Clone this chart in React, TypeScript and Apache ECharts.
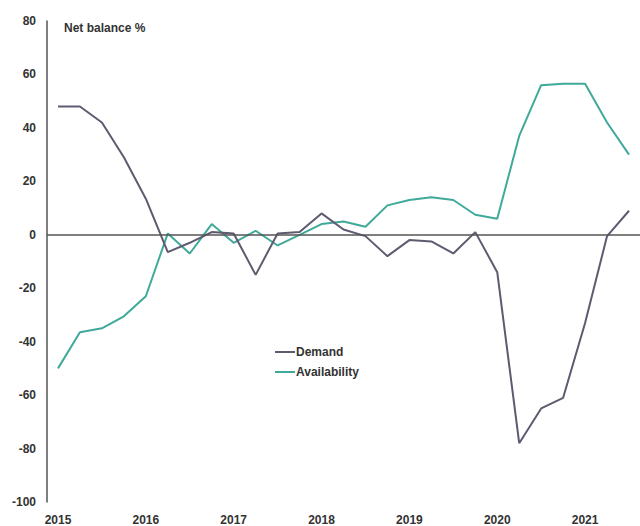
import React, { useEffect, useRef } from "react";
import * as echarts from "echarts";

const quarters: string[] = [
  "2015 Q1", "2015 Q2", "2015 Q3", "2015 Q4",
  "2016 Q1", "2016 Q2", "2016 Q3", "2016 Q4",
  "2017 Q1", "2017 Q2", "2017 Q3", "2017 Q4",
  "2018 Q1", "2018 Q2", "2018 Q3", "2018 Q4",
  "2019 Q1", "2019 Q2", "2019 Q3", "2019 Q4",
  "2020 Q1", "2020 Q2", "2020 Q3", "2020 Q4",
  "2021 Q1", "2021 Q2", "2021 Q3",
];

const demand: number[] = [
  48, 48, 42, 29,
  13.5, -6.5, -3, 1,
  0.5, -15, 0.5, 1,
  8, 2, -0.5, -8,
  -2, -2.5, -7, 1,
  -14, -78, -65, -61,
  -33, -0.5, 9,
];

const availability: number[] = [
  -50, -36.5, -35, -30.5,
  -23, 0.5, -7, 4,
  -3, 1.5, -4, 0,
  4, 5, 3, 11,
  13, 14, 13, 7.5,
  6, 37, 56, 56.5,
  56.5, 42, 30,
];

const FONT = "Liberation Sans, Arial, sans-serif";
const LINE_ICON = "path://M0 0H20V2H0Z";

export default function App() {
  const ref = useRef<HTMLDivElement>(null);
  useEffect(() => {
    if (!ref.current) return;
    const chart = echarts.init(ref.current, undefined, { renderer: "svg" });
    chart.setOption({
      animation: false,
      backgroundColor: "#ffffff",
      title: {
        text: "Net balance %",
        left: 59,
        top: 17,
        textStyle: { fontFamily: FONT, fontSize: 12, fontWeight: "bold", color: "#333" },
      },
      legend: {
        orient: "vertical",
        left: 270,
        top: 341,
        itemWidth: 20,
        itemHeight: 14,
        itemGap: 8,
        icon: LINE_ICON,
        textStyle: { fontFamily: FONT, fontSize: 12, fontWeight: "bold", color: "#333", padding: [0, 0, 0, -4] },
        data: [
          { name: "Demand", icon: LINE_ICON },
          { name: "Availability", icon: LINE_ICON },
        ],
      },
      grid: { left: 47, right: 0, top: 21, bottom: 24, containLabel: false },
      xAxis: {
        type: "category",
        data: quarters,
        boundaryGap: true,
        axisLine: { show: false },
        axisTick: { show: false },
        axisLabel: {
          interval: 3,
          margin: 12,
          formatter: (v: string) => v.slice(0, 4),
          fontFamily: FONT,
          fontSize: 12,
          fontWeight: "bold",
          color: "#333",
        },
        splitLine: { show: false },
      },
      yAxis: {
        type: "value",
        min: -100,
        max: 80,
        interval: 20,
        axisLine: { show: true, lineStyle: { color: "#555", width: 1.5 } },
        axisTick: { show: false },
        splitLine: { show: false },
        axisLabel: {
          margin: 11,
          fontFamily: FONT,
          fontSize: 12,
          fontWeight: "bold",
          color: "#333",
        },
      },
      series: [
        {
          name: "Demand",
          type: "line",
          data: demand,
          symbol: "none",
          lineStyle: { color: "#5f5a6f", width: 2 },
          itemStyle: { color: "#5f5a6f" },
          z: 3,
          markLine: {
            silent: true,
            symbol: "none",
            label: { show: false },
            lineStyle: { color: "#555", width: 1.5, type: "solid" },
            data: [{ yAxis: 0 }],
          },
        },
        {
          name: "Availability",
          type: "line",
          data: availability,
          symbol: "none",
          lineStyle: { color: "#3fa99a", width: 2 },
          itemStyle: { color: "#3fa99a" },
          z: 2,
        },
      ],
    });
    return () => chart.dispose();
  }, []);
  return (
    <div
      ref={ref}
      style={{ position: "fixed", left: 0, top: 0, width: 640, height: 526 }}
    />
  );
}
